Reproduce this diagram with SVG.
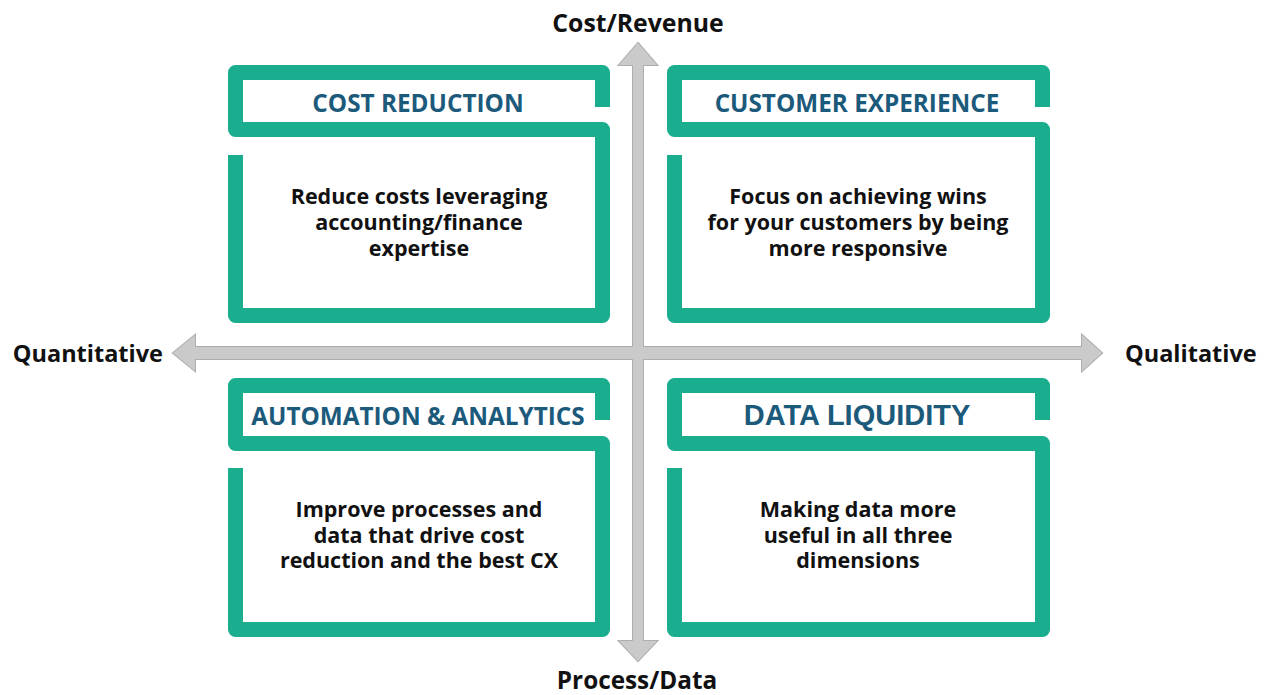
<svg xmlns="http://www.w3.org/2000/svg" width="1265" height="695" viewBox="0 0 1265 695">
  <defs>
    <style>
      .frame { fill: none; stroke: #1aae8f; stroke-width: 15; stroke-linejoin: round; stroke-linecap: butt; }
      .title { font-family: "Open Sans", "Liberation Sans", sans-serif; font-weight: 700; font-size: 24.3px; fill: #1c5a7c; text-anchor: middle; }
      .title-alt { font-family: "Liberation Sans", Arial, sans-serif; font-weight: 700; font-size: 29px; fill: #1c5a7c; text-anchor: middle; }
      .body { font-family: "Open Sans", "Liberation Sans", sans-serif; font-weight: 700; font-size: 21.5px; fill: #111; text-anchor: middle; }
      .axis-label { font-family: "Open Sans", "Liberation Sans", sans-serif; font-weight: 700; font-size: 23.5px; fill: #111; }
      .axis-edge { fill: none; stroke: #aeaeae; stroke-width: 2; stroke-linejoin: miter; }
      .axis-fill { fill: #cacaca; }
    </style>
  </defs>
  <rect width="1265" height="695" fill="#ffffff"/>

  <!-- axes: outline pass first, then fills so the crossing merges -->
  <g id="connectors">
    <polygon class="axis-edge" points="173,353 195,335 195,347 1082,347 1082,335 1102,353 1082,371 1082,359 195,359 195,371"/>
    <polygon class="axis-edge" points="638,43 657,65 643,65 643,641 657,641 638,661 619,641 633,641 633,65 619,65"/>
    <polygon class="axis-fill" points="173,353 195,335 195,347 1082,347 1082,335 1102,353 1082,371 1082,359 195,359 195,371"/>
    <polygon class="axis-fill" points="638,43 657,65 643,65 643,641 657,641 638,661 619,641 633,641 633,65 619,65"/>
  </g>

  <g id="axis-labels">
    <text class="axis-label" x="638" y="32" text-anchor="middle" style="font-size:24.8px">Cost/Revenue</text>
    <text class="axis-label" x="637" y="689" text-anchor="middle" style="font-size:24.3px">Process/Data</text>
    <text class="axis-label" x="163" y="362" text-anchor="end">Quantitative</text>
    <text class="axis-label" x="1125" y="362" text-anchor="start">Qualitative</text>
  </g>

  <g id="cost-reduction">
    <path class="frame" d="M602.5,107 L602.5,72.5 L235.5,72.5 L235.5,129.5 L602.5,129.5 L602.5,315.5 L235.5,315.5 L235.5,155"/>
    <text class="title" x="418" y="112">COST REDUCTION</text>
    <text class="body" x="419" y="204">Reduce costs leveraging</text>
    <text class="body" x="419" y="230">accounting/finance</text>
    <text class="body" x="419" y="256">expertise</text>
  </g>

  <g id="customer-experience">
    <path class="frame" d="M1042.5,107 L1042.5,72.5 L674.5,72.5 L674.5,129.5 L1042.5,129.5 L1042.5,315.5 L674.5,315.5 L674.5,155"/>
    <text class="title" x="857" y="112">CUSTOMER EXPERIENCE</text>
    <text class="body" x="858" y="204">Focus on achieving wins</text>
    <text class="body" x="858" y="230">for your customers by being</text>
    <text class="body" x="858" y="256">more responsive</text>
  </g>

  <g id="automation-analytics">
    <path class="frame" d="M602.5,420 L602.5,385.5 L235.5,385.5 L235.5,443.5 L602.5,443.5 L602.5,629.5 L235.5,629.5 L235.5,468"/>
    <text class="title" x="418" y="425">AUTOMATION &amp; ANALYTICS</text>
    <text class="body" x="419" y="517">Improve processes and</text>
    <text class="body" x="419" y="543">data that drive cost</text>
    <text class="body" x="419" y="568">reduction and the best CX</text>
  </g>

  <g id="data-liquidity">
    <path class="frame" d="M1042.5,420 L1042.5,385.5 L674.5,385.5 L674.5,443.5 L1042.5,443.5 L1042.5,629.5 L674.5,629.5 L674.5,468"/>
    <text class="title-alt" x="857" y="425">DATA LIQUIDITY</text>
    <text class="body" x="858" y="517">Making data more</text>
    <text class="body" x="858" y="543">useful in all three</text>
    <text class="body" x="858" y="568">dimensions</text>
  </g>
</svg>
